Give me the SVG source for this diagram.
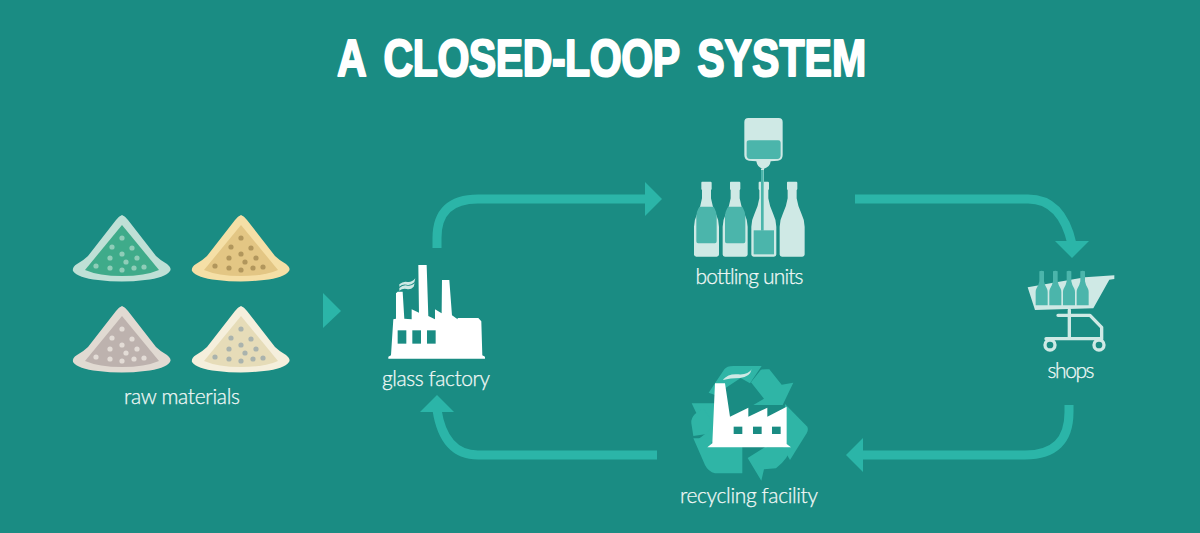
<svg xmlns="http://www.w3.org/2000/svg" width="1200" height="533" viewBox="0 0 1200 533">
  <style>
    .label { font-family: "Lato", "Liberation Sans", sans-serif; font-weight: 300; font-size: 21px; fill: #f2f9f7; stroke: #f2f9f7; stroke-width: .25px; text-anchor: middle; }
    .title { font-family: "Liberation Sans", Arial, sans-serif; font-weight: 700; font-size: 52px; fill: #ffffff; stroke: #ffffff; stroke-width: 2px; stroke-linejoin: round; }
    .flow { fill: none; stroke: #2bb5a8; stroke-width: 9; }
    .head { fill: #2bb5a8; }
    .white { fill: #ffffff; }
    .pale { fill: #cfe9e5; }
    .liquid { fill: #4bb5ab; }
    .bg { fill: #1a8c83; }
    .heap-outer { fill: var(--outer); }
    .heap-inner { fill: var(--inner); }
    .heap-grain { fill: var(--grain); }
    .cart-frame { fill: none; stroke: #cfe9e5; stroke-width: 10; stroke-linecap: round; stroke-linejoin: round; }
  </style>
  <defs>
    <g id="heap">
      <path class="heap-outer" d="M122 215 Q125 216 128 220 L156 256 Q160 260 167 264 Q172 268 170 271 Q165 278 145 280 Q122 283 98 280 Q78 278 73 271 Q72 267 77 264 Q84 260 88 256 L116 220 Q119 216 122 215Z"/>
      <path class="heap-inner" d="M122 225 L159 270 Q145 276 122 276 Q99 276 85 270Z"/>
      <g class="heap-grain">
        <circle cx="122" cy="238" r="2.600"/><circle cx="112" cy="247" r="2.600"/><circle cx="132" cy="248" r="2.600"/>
        <circle cx="122" cy="254" r="2.600"/><circle cx="110" cy="258" r="2.600"/><circle cx="137" cy="258" r="2.600"/>
        <circle cx="126" cy="262" r="2.600"/><circle cx="96" cy="266" r="2.600"/><circle cx="110" cy="268" r="2.600"/>
        <circle cx="122" cy="270" r="2.600"/><circle cx="134" cy="268" r="2.600"/><circle cx="144" cy="267" r="2.600"/>
      </g>
    </g>
    <!-- full-size bottle, 75 by 225 units before scaling -->
    <path id="bottle" d="M24 0 H50 Q53 0 53 4 V22 L51 26 V50 Q54 72 66 98 Q75 116 75 135 V218 Q75 225 68 225 H7 Q0 225 0 218 V135 Q0 116 9 98 Q21 72 24 50 V26 L22 22 V4 Q22 0 24 0Z"/>
    <path id="bottle-inner" d="M14 112 Q7 124 7 137 V212 Q7 218 12 218 H63 Q68 218 68 212 V137 Q68 124 61 112 Q59 108 58 108 H17Z"/>
    <path id="cart-bottle" d="M-7 -102 Q0 -105 7 -102 V-72 Q9 -60 16 -50 Q18 -46 18 -40 V0 H-18 V-40 Q-18 -46 -16 -50 Q-9 -60 -7 -72Z"/>
  </defs>

  <rect id="background" class="bg" width="1200" height="533"/>
  <text id="title" class="title" transform="translate(337 76) scale(.79 1)"><tspan x="0">A</tspan> <tspan x="59" letter-spacing="-.6">CLOSED-LOOP</tspan> <tspan x="456">SYSTEM</tspan></text>

  <g id="connectors">
    <path class="flow" d="M437 248 V238 Q437 199 478 199 H648"/>
    <polygon class="head" points="645,182 662,199 645,216"/>
    <path class="flow" d="M855 199 H1028 Q1062 199 1072 244"/>
    <polygon class="head" points="1055,241 1089,241 1072,258"/>
    <path class="flow" d="M1069 405 V412 Q1069 455 1025 455 H860"/>
    <polygon class="head" points="863,438 846,455 863,472"/>
    <path class="flow" d="M657 455 H478 Q444 455 437 410"/>
    <polygon class="head" points="420,412 454,412 437,395"/>
    <polygon class="head" points="323,293 341,311 323,328"/>
  </g>

  <g id="raw-materials">
    <use href="#heap" style="--outer:#bfe0d6;--inner:#3fab8a;--grain:#8fcdb8"/>
    <use href="#heap" x="119" style="--outer:#f5dfa6;--inner:#e3c684;--grain:#b1965c"/>
    <use href="#heap" y="91" style="--outer:#e1dad2;--inner:#bdb2ae;--grain:#e3dcd6"/>
    <use href="#heap" x="119" y="91" style="--outer:#f5efdc;--inner:#e6dcb8;--grain:#aab3ad"/>
    <text class="label" x="182" y="404" textLength="116">raw materials</text>
  </g>

  <g id="glass-factory">
    <g transform="translate(310 250) scale(.3333)">
      <path class="white" d="M235 326 V320 L243 316 L250 208 L258 206 V130 L263 125 H278 L283 206 L305 208 V178 L327 188 L325 45 H350 L355 198 L375 208 V178 L395 190 L396 90 H418 L426 196 L443 208 V204 H505 L514 214 L517 316 L525 320 V326Z"/>
      <g class="bg"><rect x="263" y="241" width="26" height="40"/><rect x="307" y="241" width="26" height="40"/><rect x="351" y="241" width="26" height="40"/></g>
      <path class="pale" d="M268 103 Q280 92 293 96 Q305 98 316 85 L313 97 Q302 107 290 104 Q278 101 268 110Z M268 114 Q280 103 293 107 Q305 109 314 100 L311 110 Q302 120 290 117 Q278 114 268 122Z"/>
    </g>
    <text class="label" x="436" y="386" textLength="108">glass factory</text>
  </g>

  <g id="bottling-units">
    <g transform="translate(680 110) scale(.3333)">
      <path class="pale" d="M205 24 H296 Q308 24 308 36 V135 Q308 150 294 152 L272 154 Q270 172 252 176 L250 182 L247 176 Q232 172 229 154 L207 152 Q193 150 193 135 V36 Q193 24 205 24Z"/>
      <path class="liquid" d="M200 98 Q200 91 208 91 H295 Q302 91 302 98 V136 Q302 147 292 147 H210 Q200 147 200 136Z"/>
      <rect x="243" y="176" width="9" height="40" class="pale"/>
      <use href="#bottle" x="42" y="215" class="pale"/>
      <use href="#bottle-inner" x="42" y="182" class="liquid"/>
      <use href="#bottle" x="128" y="215" class="pale"/>
      <use href="#bottle-inner" x="128" y="182" class="liquid"/>
      <use href="#bottle" x="214" y="215" class="pale"/>
      <rect x="221" y="361" width="61" height="72" class="liquid"/>
      <rect x="243" y="180" width="8" height="182" class="liquid"/>
      <use href="#bottle" x="299" y="215" class="pale"/>
    </g>
    <text class="label" x="749.500" y="284" textLength="108">bottling units</text>
  </g>

  <g id="shops">
    <g transform="translate(1010 260) scale(.3333)">
      <path class="pale" d="M53 82 L225 52 L313 46 V57 L298 59 L250 145 L75 150Z"/>
      <use href="#cart-bottle" x="95" y="136" class="liquid"/>
      <use href="#cart-bottle" x="136" y="136" class="liquid"/>
      <use href="#cart-bottle" x="177" y="136" class="liquid"/>
      <use href="#cart-bottle" x="218" y="136" class="liquid"/>
      <path class="cart-frame" d="M144 166 H240 L275 202 V238 M178 150 V236 M108 236 H275"/>
      <circle class="cart-frame" cx="120" cy="255" r="15"/>
      <circle class="cart-frame" cx="267" cy="255" r="15"/>
    </g>
    <text class="label" x="1071" y="378" textLength="47">shops</text>
  </g>

  <g id="recycling-facility">
    <g transform="translate(670 360) scale(.3333)">
      <g fill="#2fb5a6">
        <path d="M135 105 L116 98 L163 28 Q170 18 190 18 H275 L240 70 L212 54 Z"/>
        <path d="M243 67 L272 30 Q278 27 298 28 L335 74 L370 68 L338 135 L250 135 L282 116Z"/>
        <path d="M345 132 L412 200 Q416 208 410 220 L360 300 L340 265 Z"/>
        <path d="M233 294 L290 258 V262 H362 Q356 296 318 325 L282 328 L274 362 Z"/>
        <path d="M65 130 H140 V245 H75 L108 220 Z"/>
        <path d="M70 228 L64 190 Q62 175 75 162 L100 145 L130 190 L110 222 Z"/>
        <path d="M70 235 H125 V260 H217 V340 H135 Q115 335 105 315 Z"/>
      </g>
      <path class="white" d="M112 262 L127 250 L135 70 H165 L180 170 L235 143 V170 L292 143 V170 L350 140 V252 L363 262Z"/>
      <g class="bg"><rect x="191" y="200" width="26" height="22"/><rect x="249" y="200" width="26" height="22"/><rect x="306" y="200" width="26" height="22"/></g>
      <path class="pale" d="M160 58 Q175 40 205 43 Q235 45 245 28 Q240 52 210 54 Q180 54 160 60Z"/>
    </g>
    <text class="label" x="749" y="503" textLength="138">recycling facility</text>
  </g>
</svg>
